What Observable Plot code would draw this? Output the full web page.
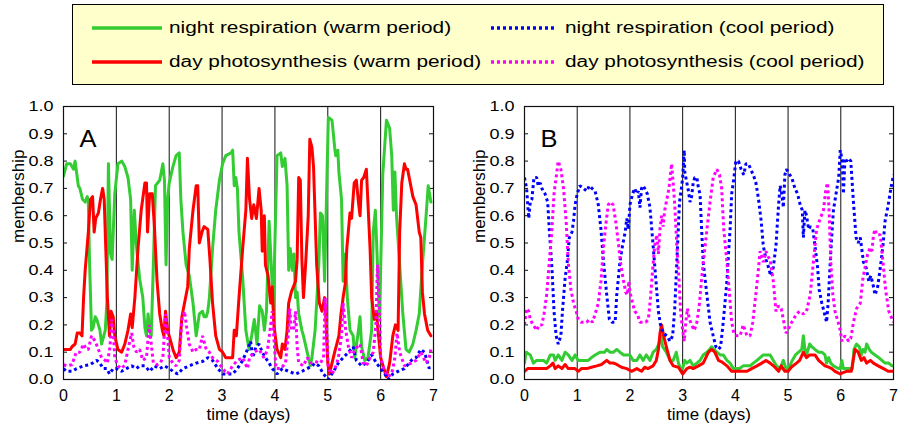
<!DOCTYPE html>
<html><head><meta charset="utf-8">
<script src="https://cdn.jsdelivr.net/npm/d3@7"></script>
<script src="https://cdn.jsdelivr.net/npm/@observablehq/plot@0.6"></script>
<style>
body{margin:0;background:#fff;font-family:"Liberation Sans",Arial,sans-serif;}
#root{position:relative;width:899px;height:427px;overflow:hidden;background:#fff;}
#legend{position:absolute;left:72px;top:4px;width:812px;height:81px;box-sizing:border-box;background:#ffffcc;border:1px solid #000;}
.lg-line{position:absolute;}
.lg-text{position:absolute;line-height:20px;height:20px;font-size:16px;white-space:nowrap;transform:scaleX(1.3);transform-origin:0 50%;color:#000;}
.panel{position:absolute;top:90px;}
</style></head><body>
<div id="root"><div id="legend"></div><div id="pA" class="panel" style="left:0"></div><div id="pB" class="panel" style="left:445px"></div></div>
<script>
// ---- axes / labels ----
const xDomain = [0, 7];
const yDomain = [0, 1];
const xTicks = [0, 1, 2, 3, 4, 5, 6, 7];
const yTicks = [0, 0.1, 0.2, 0.3, 0.4, 0.5, 0.6, 0.7, 0.8, 0.9, 1.0];
const dayLines = [1, 2, 3, 4, 5, 6];
const xLabel = "time (days)";
const yLabel = "membership";
const panelLetters = ["A", "B"];

// ---- legend ----
const seriesNames = ["night respiration (warm period)", "night respiration (cool period)", "day photosynthesis (warm period)", "day photosynthesis (cool period)"];
const seriesColors = ["#33cc33", "#0000ff", "#ff0000", "#ff00ff"];
const seriesDotted = [false, true, false, true];

// ---- panel A data: [time (days), membership] ----
const A_nightWarm = [[0,0.745],[0.06,0.79],[0.13,0.79],[0.19,0.77],[0.22,0.80],[0.28,0.71],[0.31,0.70],[0.36,0.66],[0.41,0.65],[0.45,0.67],[0.47,0.65],[0.49,0.45],[0.53,0.18],[0.56,0.19],[0.60,0.23],[0.63,0.22],[0.69,0.18],[0.72,0.13],[0.79,0.18],[0.82,0.28],[0.85,0.79],[0.89,0.46],[0.92,0.44],[0.97,0.68],[1.03,0.79],[1.10,0.80],[1.16,0.78],[1.22,0.74],[1.27,0.66],[1.30,0.40],[1.34,0.62],[1.38,0.49],[1.44,0.37],[1.50,0.30],[1.54,0.19],[1.57,0.16],[1.60,0.24],[1.63,0.18],[1.66,0.16],[1.70,0.42],[1.74,0.71],[1.82,0.73],[1.88,0.79],[1.91,0.73],[1.94,0.42],[1.97,0.66],[2.0,0.72],[2.07,0.78],[2.13,0.82],[2.19,0.83],[2.22,0.66],[2.26,0.54],[2.32,0.42],[2.38,0.38],[2.45,0.28],[2.51,0.16],[2.57,0.24],[2.63,0.25],[2.66,0.23],[2.70,0.23],[2.73,0.25],[2.76,0.30],[2.82,0.48],[2.88,0.62],[2.95,0.73],[3.01,0.79],[3.07,0.82],[3.17,0.83],[3.20,0.84],[3.23,0.71],[3.26,0.74],[3.29,0.70],[3.32,0.54],[3.39,0.37],[3.45,0.18],[3.51,0.11],[3.56,0.16],[3.61,0.22],[3.66,0.13],[3.71,0.27],[3.76,0.25],[3.80,0.18],[3.84,0.25],[3.89,0.58],[3.93,0.42],[3.97,0.26],[4.04,0.82],[4.11,0.83],[4.14,0.78],[4.19,0.81],[4.23,0.71],[4.26,0.40],[4.29,0.48],[4.33,0.40],[4.36,0.46],[4.39,0.30],[4.42,0.32],[4.45,0.24],[4.51,0.18],[4.54,0.16],[4.61,0.10],[4.67,0.05],[4.70,0.08],[4.76,0.18],[4.83,0.42],[4.86,0.61],[4.90,0.60],[4.94,0.36],[5.01,0.96],[5.08,0.95],[5.13,0.85],[5.15,0.82],[5.19,0.84],[5.21,0.76],[5.26,0.66],[5.29,0.36],[5.33,0.46],[5.37,0.30],[5.42,0.18],[5.48,0.16],[5.51,0.08],[5.58,0.18],[5.61,0.23],[5.64,0.12],[5.70,0.07],[5.76,0.08],[5.83,0.18],[5.86,0.54],[5.90,0.62],[5.94,0.42],[5.98,0.23],[6.04,0.75],[6.11,0.95],[6.17,0.92],[6.21,0.82],[6.24,0.62],[6.27,0.76],[6.30,0.60],[6.36,0.42],[6.42,0.24],[6.48,0.11],[6.54,0.10],[6.61,0.13],[6.67,0.18],[6.73,0.24],[6.79,0.42],[6.86,0.60],[6.90,0.71],[6.95,0.65]];
const A_dayWarm = [[0,0.11],[0.06,0.11],[0.13,0.11],[0.16,0.12],[0.22,0.13],[0.26,0.17],[0.31,0.17],[0.35,0.16],[0.38,0.30],[0.41,0.40],[0.47,0.54],[0.51,0.66],[0.55,0.67],[0.58,0.54],[0.61,0.59],[0.66,0.61],[0.70,0.66],[0.74,0.70],[0.77,0.66],[0.80,0.48],[0.83,0.30],[0.87,0.16],[0.90,0.25],[0.94,0.23],[0.97,0.16],[1.03,0.11],[1.10,0.10],[1.16,0.13],[1.22,0.18],[1.27,0.24],[1.30,0.19],[1.35,0.30],[1.41,0.48],[1.47,0.62],[1.54,0.72],[1.57,0.72],[1.59,0.54],[1.63,0.68],[1.68,0.68],[1.72,0.56],[1.77,0.36],[1.82,0.24],[1.87,0.18],[1.90,0.16],[1.93,0.25],[1.97,0.18],[2.0,0.16],[2.07,0.11],[2.13,0.08],[2.19,0.10],[2.24,0.23],[2.29,0.28],[2.35,0.34],[2.38,0.48],[2.45,0.62],[2.51,0.71],[2.54,0.71],[2.57,0.50],[2.62,0.54],[2.66,0.56],[2.73,0.55],[2.77,0.44],[2.82,0.28],[2.88,0.16],[2.95,0.11],[3.01,0.10],[3.07,0.08],[3.20,0.08],[3.23,0.18],[3.27,0.16],[3.32,0.30],[3.39,0.48],[3.45,0.62],[3.48,0.81],[3.52,0.66],[3.56,0.59],[3.60,0.64],[3.65,0.59],[3.70,0.70],[3.74,0.62],[3.76,0.47],[3.80,0.60],[3.82,0.42],[3.87,0.38],[3.92,0.28],[3.95,0.34],[3.98,0.20],[4.04,0.11],[4.11,0.08],[4.14,0.13],[4.19,0.11],[4.23,0.18],[4.26,0.28],[4.31,0.32],[4.39,0.36],[4.42,0.44],[4.45,0.74],[4.48,0.73],[4.51,0.44],[4.54,0.30],[4.58,0.42],[4.63,0.60],[4.66,0.88],[4.70,0.85],[4.73,0.78],[4.76,0.60],[4.79,0.42],[4.84,0.28],[4.89,0.25],[4.94,0.30],[4.96,0.24],[5.0,0.06],[5.03,0.02],[5.08,0.06],[5.13,0.10],[5.17,0.13],[5.21,0.16],[5.25,0.24],[5.29,0.30],[5.33,0.35],[5.36,0.48],[5.42,0.61],[5.45,0.59],[5.50,0.72],[5.54,0.73],[5.58,0.65],[5.61,0.60],[5.64,0.73],[5.68,0.74],[5.73,0.77],[5.80,0.48],[5.83,0.30],[5.88,0.22],[5.92,0.25],[5.95,0.18],[6.0,0.08],[6.06,0.04],[6.11,0.01],[6.17,0.06],[6.23,0.16],[6.28,0.20],[6.33,0.18],[6.36,0.54],[6.40,0.72],[6.45,0.79],[6.48,0.77],[6.51,0.77],[6.54,0.74],[6.61,0.67],[6.67,0.64],[6.73,0.54],[6.76,0.52],[6.79,0.32],[6.83,0.24],[6.89,0.18],[6.95,0.16]];
const A_nightCool = [[0,0.04],[0.06,0.03],[0.16,0.03],[0.25,0.04],[0.38,0.05],[0.50,0.054],[0.63,0.07],[0.69,0.06],[0.75,0.04],[0.82,0.04],[0.87,0.02],[0.94,0.04],[1.0,0.04],[1.10,0.03],[1.19,0.04],[1.29,0.05],[1.38,0.04],[1.44,0.05],[1.54,0.05],[1.63,0.03],[1.72,0.05],[1.82,0.04],[1.91,0.05],[2.0,0.04],[2.07,0.03],[2.16,0.02],[2.26,0.04],[2.38,0.05],[2.51,0.06],[2.63,0.066],[2.73,0.08],[2.82,0.07],[2.92,0.04],[3.01,0.02],[3.13,0.02],[3.20,0.02],[3.29,0.04],[3.39,0.07],[3.48,0.11],[3.54,0.14],[3.58,0.08],[3.64,0.12],[3.70,0.13],[3.76,0.10],[3.82,0.08],[3.89,0.06],[3.95,0.04],[4.04,0.02],[4.14,0.04],[4.26,0.03],[4.39,0.02],[4.51,0.03],[4.61,0.04],[4.70,0.05],[4.76,0.06],[4.83,0.05],[4.92,0.02],[5.01,0.0],[5.11,0.03],[5.20,0.06],[5.29,0.08],[5.39,0.10],[5.48,0.12],[5.54,0.07],[5.64,0.05],[5.73,0.06],[5.83,0.09],[5.92,0.06],[6.0,0.04],[6.08,0.02],[6.14,0.0],[6.23,0.02],[6.33,0.03],[6.45,0.04],[6.58,0.07],[6.67,0.08],[6.76,0.11],[6.83,0.10],[6.92,0.04],[6.95,0.05]];
const A_dayCool = [[0,0.054],[0.06,0.05],[0.16,0.054],[0.24,0.10],[0.31,0.10],[0.38,0.13],[0.43,0.11],[0.47,0.11],[0.53,0.16],[0.60,0.14],[0.66,0.11],[0.72,0.08],[0.79,0.07],[0.83,0.06],[0.88,0.12],[0.91,0.22],[0.94,0.18],[0.97,0.08],[1.03,0.05],[1.10,0.04],[1.16,0.054],[1.22,0.11],[1.29,0.17],[1.33,0.12],[1.38,0.10],[1.44,0.11],[1.50,0.07],[1.57,0.08],[1.62,0.20],[1.66,0.13],[1.70,0.06],[1.77,0.054],[1.83,0.06],[1.88,0.08],[1.93,0.24],[1.97,0.16],[2.0,0.08],[2.07,0.06],[2.13,0.05],[2.19,0.07],[2.24,0.22],[2.29,0.25],[2.33,0.19],[2.38,0.13],[2.45,0.10],[2.51,0.11],[2.57,0.11],[2.63,0.16],[2.70,0.11],[2.76,0.10],[2.82,0.08],[2.92,0.066],[3.01,0.04],[3.10,0.02],[3.20,0.05],[3.29,0.07],[3.39,0.08],[3.48,0.04],[3.52,0.08],[3.60,0.10],[3.70,0.11],[3.79,0.08],[3.86,0.11],[3.92,0.20],[3.95,0.25],[3.98,0.15],[4.02,0.04],[4.11,0.04],[4.20,0.06],[4.25,0.16],[4.28,0.26],[4.31,0.18],[4.36,0.19],[4.39,0.25],[4.42,0.12],[4.45,0.06],[4.54,0.05],[4.61,0.08],[4.67,0.06],[4.76,0.066],[4.86,0.06],[4.92,0.08],[4.95,0.30],[4.98,0.18],[5.01,0.04],[5.08,0.02],[5.14,0.04],[5.20,0.08],[5.26,0.16],[5.29,0.28],[5.34,0.18],[5.39,0.12],[5.45,0.08],[5.51,0.11],[5.61,0.13],[5.67,0.06],[5.73,0.05],[5.80,0.08],[5.86,0.10],[5.91,0.20],[5.94,0.42],[5.97,0.30],[6.0,0.08],[6.06,0.04],[6.14,0.01],[6.21,0.02],[6.27,0.08],[6.31,0.17],[6.36,0.10],[6.45,0.05],[6.58,0.06],[6.67,0.07],[6.76,0.10],[6.86,0.06],[6.92,0.08],[6.95,0.11]];

// ---- panel B data ----
const B_nightWarm = [[0,0.06],[0.03,0.10],[0.11,0.09],[0.17,0.06],[0.23,0.07],[0.30,0.07],[0.36,0.07],[0.42,0.06],[0.49,0.09],[0.55,0.09],[0.58,0.07],[0.64,0.09],[0.71,0.07],[0.77,0.10],[0.83,0.09],[0.90,0.07],[0.96,0.09],[1.02,0.07],[1.08,0.07],[1.15,0.07],[1.21,0.07],[1.27,0.08],[1.34,0.09],[1.43,0.10],[1.52,0.10],[1.56,0.11],[1.62,0.10],[1.69,0.10],[1.75,0.11],[1.81,0.10],[1.88,0.09],[1.94,0.09],[2.0,0.09],[2.06,0.07],[2.13,0.07],[2.19,0.09],[2.25,0.07],[2.31,0.09],[2.38,0.07],[2.44,0.10],[2.50,0.11],[2.55,0.13],[2.59,0.16],[2.62,0.12],[2.69,0.10],[2.76,0.07],[2.82,0.07],[2.88,0.10],[2.92,0.06],[2.96,0.04],[3.0,0.04],[3.04,0.07],[3.08,0.06],[3.14,0.07],[3.17,0.06],[3.20,0.05],[3.27,0.06],[3.33,0.07],[3.39,0.09],[3.46,0.10],[3.51,0.11],[3.55,0.12],[3.59,0.11],[3.65,0.10],[3.71,0.09],[3.77,0.09],[3.84,0.07],[3.90,0.06],[3.96,0.04],[4.01,0.04],[4.08,0.04],[4.15,0.05],[4.22,0.05],[4.28,0.05],[4.34,0.06],[4.41,0.07],[4.47,0.08],[4.53,0.09],[4.60,0.09],[4.66,0.09],[4.72,0.07],[4.78,0.05],[4.85,0.04],[4.91,0.07],[4.96,0.04],[5.01,0.04],[5.08,0.07],[5.14,0.09],[5.20,0.10],[5.26,0.11],[5.29,0.16],[5.32,0.11],[5.35,0.09],[5.41,0.13],[5.45,0.12],[5.51,0.11],[5.58,0.10],[5.64,0.10],[5.70,0.09],[5.73,0.06],[5.77,0.08],[5.81,0.06],[5.86,0.05],[5.91,0.045],[5.96,0.04],[5.99,0.04],[6.02,0.07],[6.05,0.04],[6.13,0.04],[6.22,0.04],[6.25,0.11],[6.30,0.13],[6.35,0.12],[6.39,0.09],[6.42,0.11],[6.46,0.10],[6.49,0.13],[6.54,0.11],[6.58,0.10],[6.65,0.09],[6.72,0.08],[6.78,0.07],[6.84,0.06],[6.91,0.06],[6.97,0.05],[7.0,0.05]];
const B_dayWarm = [[0,0.03],[0.06,0.04],[0.11,0.04],[0.17,0.04],[0.23,0.04],[0.30,0.04],[0.36,0.04],[0.42,0.04],[0.49,0.05],[0.54,0.06],[0.58,0.04],[0.64,0.05],[0.71,0.04],[0.77,0.055],[0.83,0.04],[0.90,0.04],[0.96,0.04],[1.02,0.03],[1.08,0.04],[1.18,0.04],[1.27,0.045],[1.37,0.05],[1.46,0.055],[1.56,0.07],[1.62,0.06],[1.69,0.06],[1.75,0.055],[1.84,0.045],[1.94,0.04],[2.03,0.03],[2.13,0.04],[2.22,0.03],[2.28,0.045],[2.34,0.04],[2.44,0.05],[2.50,0.07],[2.54,0.11],[2.57,0.17],[2.60,0.20],[2.64,0.16],[2.69,0.12],[2.76,0.07],[2.82,0.05],[2.92,0.045],[3.0,0.02],[3.08,0.04],[3.14,0.045],[3.20,0.04],[3.30,0.05],[3.39,0.06],[3.49,0.10],[3.55,0.11],[3.61,0.10],[3.68,0.07],[3.74,0.065],[3.84,0.05],[3.93,0.03],[4.03,0.03],[4.12,0.03],[4.22,0.03],[4.31,0.04],[4.41,0.05],[4.50,0.06],[4.58,0.07],[4.66,0.06],[4.75,0.045],[4.82,0.03],[4.87,0.05],[4.94,0.03],[5.0,0.03],[5.06,0.045],[5.16,0.06],[5.22,0.07],[5.29,0.10],[5.35,0.08],[5.41,0.09],[5.51,0.09],[5.58,0.07],[5.64,0.06],[5.70,0.05],[5.77,0.045],[5.83,0.04],[5.89,0.03],[5.99,0.02],[6.04,0.025],[6.11,0.03],[6.20,0.03],[6.27,0.11],[6.33,0.10],[6.39,0.07],[6.44,0.08],[6.49,0.06],[6.56,0.07],[6.62,0.06],[6.71,0.05],[6.81,0.04],[6.90,0.03],[7.0,0.03]];
const B_nightCool = [[0,0.74],[0.04,0.70],[0.08,0.59],[0.11,0.65],[0.14,0.66],[0.18,0.74],[0.23,0.74],[0.26,0.71],[0.30,0.72],[0.33,0.70],[0.39,0.68],[0.44,0.65],[0.47,0.55],[0.52,0.41],[0.56,0.25],[0.60,0.16],[0.64,0.13],[0.69,0.16],[0.72,0.25],[0.77,0.37],[0.81,0.43],[0.85,0.52],[0.90,0.54],[0.93,0.58],[0.96,0.64],[1.0,0.68],[1.05,0.71],[1.12,0.70],[1.18,0.69],[1.23,0.71],[1.28,0.70],[1.34,0.69],[1.40,0.64],[1.45,0.55],[1.50,0.43],[1.56,0.31],[1.61,0.22],[1.66,0.21],[1.72,0.21],[1.75,0.31],[1.81,0.43],[1.86,0.49],[1.91,0.54],[1.94,0.59],[1.97,0.55],[2.0,0.64],[2.05,0.68],[2.09,0.70],[2.13,0.68],[2.16,0.69],[2.19,0.63],[2.22,0.70],[2.25,0.71],[2.28,0.70],[2.33,0.68],[2.38,0.63],[2.44,0.49],[2.49,0.37],[2.54,0.25],[2.58,0.20],[2.63,0.17],[2.70,0.16],[2.76,0.14],[2.81,0.16],[2.85,0.26],[2.89,0.43],[2.94,0.65],[2.97,0.69],[3.0,0.74],[3.03,0.84],[3.04,0.76],[3.08,0.72],[3.11,0.69],[3.14,0.65],[3.17,0.67],[3.20,0.72],[3.23,0.74],[3.27,0.74],[3.30,0.70],[3.33,0.68],[3.36,0.55],[3.39,0.43],[3.46,0.31],[3.52,0.21],[3.58,0.16],[3.63,0.12],[3.68,0.11],[3.72,0.12],[3.77,0.21],[3.84,0.36],[3.87,0.46],[3.90,0.55],[3.93,0.68],[3.96,0.72],[4.01,0.80],[4.06,0.80],[4.11,0.77],[4.16,0.75],[4.20,0.79],[4.25,0.79],[4.29,0.77],[4.34,0.75],[4.39,0.72],[4.44,0.66],[4.49,0.58],[4.53,0.49],[4.58,0.44],[4.63,0.41],[4.67,0.38],[4.72,0.41],[4.77,0.49],[4.82,0.64],[4.85,0.71],[4.88,0.68],[4.91,0.63],[4.94,0.75],[4.97,0.77],[5.03,0.75],[5.07,0.74],[5.13,0.70],[5.18,0.68],[5.23,0.64],[5.27,0.62],[5.29,0.52],[5.32,0.62],[5.35,0.60],[5.39,0.55],[5.42,0.56],[5.47,0.55],[5.51,0.49],[5.56,0.41],[5.59,0.33],[5.64,0.28],[5.68,0.25],[5.73,0.21],[5.76,0.28],[5.80,0.43],[5.83,0.53],[5.86,0.62],[5.91,0.68],[5.96,0.74],[5.99,0.84],[6.03,0.80],[6.05,0.68],[6.08,0.81],[6.11,0.80],[6.15,0.81],[6.19,0.80],[6.24,0.65],[6.29,0.52],[6.33,0.50],[6.37,0.52],[6.43,0.43],[6.48,0.41],[6.53,0.36],[6.57,0.38],[6.62,0.34],[6.65,0.31],[6.70,0.34],[6.75,0.41],[6.80,0.49],[6.84,0.58],[6.90,0.64],[6.95,0.70],[7.0,0.75]];
const B_dayCool = [[0,0.20],[0.04,0.26],[0.08,0.25],[0.11,0.22],[0.16,0.20],[0.20,0.19],[0.23,0.18],[0.28,0.20],[0.33,0.20],[0.37,0.24],[0.42,0.31],[0.47,0.43],[0.52,0.55],[0.56,0.68],[0.60,0.74],[0.64,0.80],[0.69,0.77],[0.74,0.70],[0.79,0.58],[0.83,0.43],[0.88,0.33],[0.93,0.28],[0.98,0.25],[1.02,0.22],[1.07,0.21],[1.12,0.21],[1.18,0.21],[1.23,0.22],[1.29,0.21],[1.34,0.24],[1.40,0.28],[1.45,0.36],[1.50,0.49],[1.55,0.58],[1.59,0.64],[1.63,0.65],[1.68,0.64],[1.73,0.58],[1.78,0.50],[1.82,0.43],[1.87,0.37],[1.92,0.32],[1.95,0.31],[1.98,0.36],[2.0,0.32],[2.05,0.28],[2.09,0.25],[2.14,0.24],[2.19,0.21],[2.25,0.21],[2.30,0.21],[2.35,0.22],[2.39,0.30],[2.43,0.40],[2.47,0.49],[2.51,0.53],[2.54,0.46],[2.57,0.55],[2.60,0.60],[2.63,0.56],[2.66,0.62],[2.70,0.66],[2.74,0.70],[2.79,0.79],[2.82,0.72],[2.85,0.64],[2.89,0.49],[2.93,0.37],[2.96,0.25],[3.0,0.18],[3.03,0.14],[3.06,0.21],[3.09,0.26],[3.13,0.22],[3.17,0.20],[3.22,0.18],[3.27,0.21],[3.32,0.28],[3.36,0.37],[3.41,0.46],[3.46,0.55],[3.52,0.65],[3.58,0.74],[3.65,0.77],[3.70,0.75],[3.74,0.70],[3.78,0.55],[3.84,0.43],[3.89,0.31],[3.93,0.21],[3.97,0.17],[4.03,0.16],[4.09,0.16],[4.15,0.20],[4.22,0.16],[4.28,0.16],[4.33,0.21],[4.37,0.28],[4.42,0.37],[4.47,0.47],[4.53,0.43],[4.58,0.47],[4.62,0.45],[4.66,0.44],[4.72,0.36],[4.77,0.25],[4.82,0.27],[4.87,0.26],[4.92,0.21],[4.96,0.17],[5.0,0.18],[5.04,0.20],[5.10,0.22],[5.16,0.24],[5.22,0.25],[5.29,0.24],[5.35,0.25],[5.42,0.31],[5.48,0.43],[5.54,0.55],[5.61,0.59],[5.67,0.62],[5.72,0.70],[5.75,0.72],[5.78,0.61],[5.81,0.43],[5.85,0.31],[5.89,0.25],[5.95,0.21],[5.99,0.18],[6.02,0.14],[6.08,0.16],[6.15,0.14],[6.19,0.15],[6.24,0.21],[6.30,0.26],[6.37,0.28],[6.42,0.37],[6.46,0.41],[6.51,0.46],[6.55,0.48],[6.59,0.47],[6.62,0.53],[6.65,0.55],[6.68,0.53],[6.75,0.53],[6.80,0.43],[6.85,0.33],[6.91,0.25],[7.0,0.21]];

// ---- legend ----
const legend = document.getElementById("legend");
const legendPos = [[19, 96, 70, 23], [418, 492, 64, 23], [19, 96, 70, 57], [418, 492, 64, 57]];
seriesNames.forEach((name, i) => {
  const [lx, tx, len, cy] = legendPos[i];
  const ns = "http://www.w3.org/2000/svg";
  const svg = document.createElementNS(ns, "svg");
  svg.setAttribute("width", len); svg.setAttribute("height", 6);
  svg.setAttribute("class", "lg-line");
  svg.style.left = lx + "px"; svg.style.top = (cy - 3) + "px";
  const ln = document.createElementNS(ns, "line");
  ln.setAttribute("x1", 0); ln.setAttribute("x2", len); ln.setAttribute("y1", 3); ln.setAttribute("y2", 3);
  ln.setAttribute("stroke", seriesColors[i]); ln.setAttribute("stroke-width", 3.5);
  if (seriesDotted[i]) ln.setAttribute("stroke-dasharray", "3,3");
  svg.appendChild(ln);
  legend.appendChild(svg);
  const t = document.createElement("div");
  t.className = "lg-text"; t.textContent = name;
  t.style.left = tx + "px"; t.style.top = (cy - 10) + "px";
  legend.appendChild(t);
});

// ---- panels ----
function stretch(chart, selector, k) {
  chart.querySelectorAll(selector).forEach(t => {
    const L = t.getComputedTextLength();
    t.setAttribute("textLength", (L * k).toFixed(2));
    t.setAttribute("lengthAdjust", "spacingAndGlyphs");
  });
}
function makePanel(el, letter, solids, dotted, ml, mr, w) {
  const inner = w - ml - mr;
  const chart = Plot.plot({
    width: w, height: 337, marginTop: 16, marginBottom: 48, marginLeft: ml, marginRight: mr,
    style: {fontFamily: '"Liberation Sans", Arial, sans-serif', fontSize: "15px", background: "transparent", overflow: "visible", color: "#000"},
    x: {domain: xDomain},
    y: {domain: yDomain},
    marks: [
      Plot.ruleX(dayLines, {stroke: "#111", strokeWidth: 1}),
      Plot.tickY(yTicks, {y: d => d, insetRight: inner - 4, stroke: "#111"}),
      Plot.tickY(yTicks, {y: d => d, insetLeft: inner - 4, stroke: "#111"}),
      ...solids.map(s => Plot.line(s.data, {x: d => d[0], y: d => d[1], stroke: s.color, strokeWidth: 3, strokeLinejoin: "round", clip: true})),
      ...dotted.map(s => Plot.line(s.data, {x: d => d[0], y: d => d[1], stroke: s.color, strokeWidth: 3, strokeDasharray: "3,3", strokeLinecap: "butt", strokeLinejoin: "miter", clip: true})),
      Plot.frame({stroke: "#111", strokeWidth: 1.2}),
      Plot.axisX({ticks: xTicks, tickSize: 0, tickPadding: 10, fontSize: 16, label: null, tickFormat: d3.format("d")}),
      Plot.axisY({ticks: yTicks, tickSize: 0, tickPadding: 10, fontSize: 15, label: null, tickFormat: d3.format(".1f")}),
      Plot.text([letter], {text: d => d, frameAnchor: "top-left", dx: 16, dy: 23, fontSize: 24, textAnchor: "start"}),
      Plot.text([xLabel], {text: d => d, frameAnchor: "bottom", dy: 40, fontSize: 16}),
      Plot.text([yLabel], {text: d => d, frameAnchor: "left", dx: -45, rotate: -90, fontSize: 16})
    ]
  });
  el.appendChild(chart);
  stretch(chart, 'g[aria-label="y-axis tick label"] text', 1.2);
  stretch(chart, 'g[aria-label="text"] text', 1.06);
  return chart;
}

const [cG, cB, cR, cM] = seriesColors;
makePanel(document.getElementById("pA"), panelLetters[0],
  [{data: A_nightWarm, color: cG}, {data: A_dayWarm, color: cR}],
  [{data: A_nightCool, color: cB}, {data: A_dayCool, color: cM}], 63, 12, 445);
makePanel(document.getElementById("pB"), panelLetters[1],
  [{data: B_nightWarm, color: cG}, {data: B_dayWarm, color: cR}],
  [{data: B_nightCool, color: cB}, {data: B_dayCool, color: cM}], 79, 6, 454);
</script>
</body></html>
